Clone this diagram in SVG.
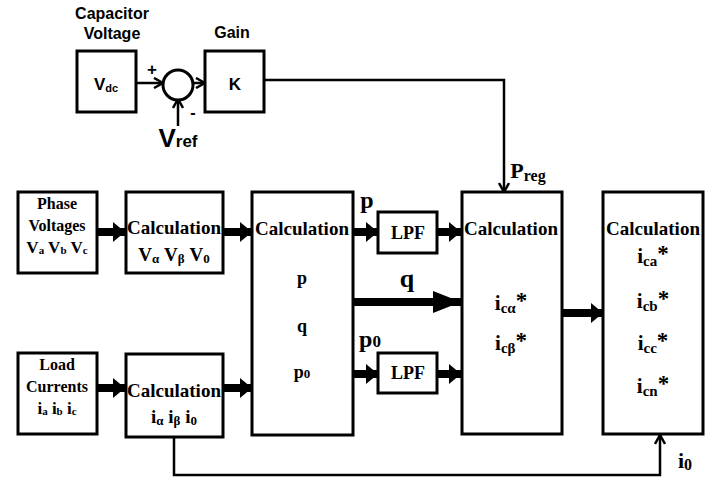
<svg xmlns="http://www.w3.org/2000/svg" width="711" height="481" viewBox="0 0 711 481">
<style>
.box{fill:#fff;stroke:#000;stroke-width:3}
.thin{fill:none;stroke:#000;stroke-width:2.5}
.thick{fill:none;stroke:#000;stroke-width:8}
.sans{font-family:"Liberation Sans",Arial,sans-serif;font-weight:bold;fill:#000;text-anchor:middle}
.serif{font-family:"Liberation Serif","Times New Roman",serif;font-weight:bold;fill:#000;text-anchor:middle}
.st{font-size:23px}
</style>
<defs>
<marker id="open" markerUnits="userSpaceOnUse" markerWidth="12" markerHeight="12" viewBox="0 0 12 12" refX="11" refY="6" orient="auto">
<path d="M2,1 L11,6 L2,11" fill="none" stroke="#000" stroke-width="2.5"/>
</marker>
<marker id="head" markerUnits="userSpaceOnUse" markerWidth="12" markerHeight="20" viewBox="0 0 12 20" refX="12" refY="10" orient="auto">
<path d="M0,0 L12,10 L0,20 z" fill="#000"/>
</marker>
<marker id="bighead" markerUnits="userSpaceOnUse" markerWidth="28" markerHeight="22" viewBox="0 0 28 22" refX="28" refY="11" orient="auto">
<path d="M0,0 L28,11 L0,22 z" fill="#000"/>
</marker>
</defs>

<g id="connectors">
<line class="thin" x1="136" y1="83" x2="163" y2="83" marker-end="url(#open)"/>
<line class="thin" x1="193" y1="83" x2="205" y2="83" marker-end="url(#open)"/>
<line class="thin" x1="178" y1="126" x2="178" y2="99" marker-end="url(#open)"/>
<polyline class="thin" points="264,80 504,80 504,192" marker-end="url(#open)"/>
<line class="thick" x1="97" y1="232" x2="125" y2="232" marker-end="url(#head)"/>
<line class="thick" x1="223" y1="232" x2="252" y2="232" marker-end="url(#head)"/>
<line class="thick" x1="353" y1="232" x2="378" y2="232" marker-end="url(#head)"/>
<line class="thick" x1="437" y1="232" x2="461" y2="232" marker-end="url(#head)"/>
<line class="thick" x1="353" y1="302" x2="461" y2="302" stroke-width="9" marker-end="url(#bighead)"/>
<line class="thick" x1="353" y1="374" x2="378" y2="374" marker-end="url(#head)"/>
<line class="thick" x1="437" y1="374" x2="461" y2="374" marker-end="url(#head)"/>
<line class="thick" x1="97" y1="388" x2="125" y2="388" marker-end="url(#head)"/>
<line class="thick" x1="223" y1="388" x2="252" y2="388" marker-end="url(#head)"/>
<line class="thick" x1="562" y1="313" x2="603" y2="313" marker-end="url(#head)"/>
<polyline class="thin" points="174,437 174,475 660,475 660,435" marker-end="url(#open)"/>
</g>

<text class="sans" x="112" y="19" font-size="16">Capacitor</text>
<text class="sans" x="112" y="39" font-size="16">Voltage</text>
<text class="sans" x="232" y="38" font-size="16">Gain</text>
<text class="sans" x="152" y="75" font-size="17">+</text>
<text class="sans" x="193" y="118" font-size="16">-</text>
<text class="sans" x="178" y="147" font-size="26">V<tspan font-size="17">ref</tspan></text>
<text class="serif" x="528" y="178" font-size="22">P<tspan font-size="16" dy="3">reg</tspan></text>
<text class="serif" x="367" y="208" font-size="24">p</text>
<text class="serif" x="407" y="287" font-size="26">q</text>
<text class="serif" x="370" y="347" font-size="24">p<tspan font-size="17" dy="0">0</tspan></text>
<text class="serif" x="685" y="468" font-size="22">i<tspan font-size="16" dy="2">0</tspan></text>

<g id="vdc">
<rect class="box" x="77" y="51" width="59" height="61"/>
<text class="sans" x="106" y="90" font-size="17">V<tspan font-size="11" dy="2">dc</tspan></text>
</g>
<g id="sum">
<circle class="box" cx="178" cy="85" r="15" stroke-width="2.5"/>
</g>
<g id="gain">
<rect class="box" x="205" y="51" width="59" height="61"/>
<text class="sans" x="235" y="90" font-size="17">K</text>
</g>

<g id="phase-voltages">
<rect class="box" x="18" y="192" width="79" height="81"/>
<text class="serif" x="57" y="209" font-size="16">Phase</text>
<text class="serif" x="57" y="231" font-size="16">Voltages</text>
<text class="serif" x="57" y="253" font-size="17">V<tspan font-size="11" dy="1">a</tspan><tspan dy="-1"> V</tspan><tspan font-size="11" dy="1">b</tspan><tspan dy="-1"> V</tspan><tspan font-size="11" dy="1">c</tspan></text>
</g>
<g id="calc-v">
<rect class="box" x="126" y="192" width="97" height="81"/>
<text class="serif" x="174" y="234" font-size="19">Calculation</text>
<text class="serif" x="174" y="261" font-size="19">V<tspan font-size="13" dy="2">α</tspan><tspan dy="-2"> V</tspan><tspan font-size="13" dy="2">β</tspan><tspan dy="-2"> V</tspan><tspan font-size="13" dy="2">0</tspan></text>
</g>
<g id="load-currents">
<rect class="box" x="18" y="353" width="79" height="81"/>
<text class="serif" x="57" y="370" font-size="16">Load</text>
<text class="serif" x="57" y="392" font-size="16">Currents</text>
<text class="serif" x="57" y="414" font-size="17">i<tspan font-size="11" dy="1">a</tspan><tspan dy="-1"> i</tspan><tspan font-size="11" dy="1">b</tspan><tspan dy="-1"> i</tspan><tspan font-size="11" dy="1">c</tspan></text>
</g>
<g id="calc-i">
<rect class="box" x="126" y="354" width="97" height="83"/>
<text class="serif" x="174" y="397" font-size="19">Calculation</text>
<text class="serif" x="174" y="423" font-size="19">i<tspan font-size="13" dy="2">α</tspan><tspan dy="-2"> i</tspan><tspan font-size="13" dy="2">β</tspan><tspan dy="-2"> i</tspan><tspan font-size="13" dy="2">0</tspan></text>
</g>
<g id="calc-pq">
<rect class="box" x="252" y="192" width="101" height="243"/>
<text class="serif" x="302" y="235" font-size="19">Calculation</text>
<text class="serif" x="302" y="284" font-size="18">p</text>
<text class="serif" x="302" y="332" font-size="18">q</text>
<text class="serif" x="302" y="378" font-size="18">p<tspan font-size="13">0</tspan></text>
</g>
<g id="lpf1">
<rect class="box" x="378" y="212" width="59" height="41"/>
<text class="serif" x="408" y="239" font-size="18">LPF</text>
</g>
<g id="lpf2">
<rect class="box" x="378" y="353" width="59" height="40"/>
<text class="serif" x="408" y="379" font-size="18">LPF</text>
</g>
<g id="calc-ic-ab">
<rect class="box" x="462" y="192" width="100" height="242"/>
<text class="serif" x="511" y="235" font-size="19">Calculation</text>
<text class="serif" x="511" y="310" font-size="21">i<tspan font-size="15" dy="3">cα</tspan><tspan class="st" dy="-5">*</tspan></text>
<text class="serif" x="511" y="350" font-size="21">i<tspan font-size="15" dy="3">cβ</tspan><tspan class="st" dy="-5">*</tspan></text>
</g>
<g id="calc-ic-abc">
<rect class="box" x="603" y="192" width="100" height="242"/>
<text class="serif" x="653" y="235" font-size="19">Calculation</text>
<text class="serif" x="653" y="263" font-size="21">i<tspan font-size="15" dy="3">ca</tspan><tspan class="st" dy="-5">*</tspan></text>
<text class="serif" x="653" y="308" font-size="21">i<tspan font-size="15" dy="3">cb</tspan><tspan class="st" dy="-5">*</tspan></text>
<text class="serif" x="653" y="350" font-size="21">i<tspan font-size="15" dy="3">cc</tspan><tspan class="st" dy="-5">*</tspan></text>
<text class="serif" x="653" y="393" font-size="21">i<tspan font-size="15" dy="3">cn</tspan><tspan class="st" dy="-5">*</tspan></text>
</g>
</svg>
